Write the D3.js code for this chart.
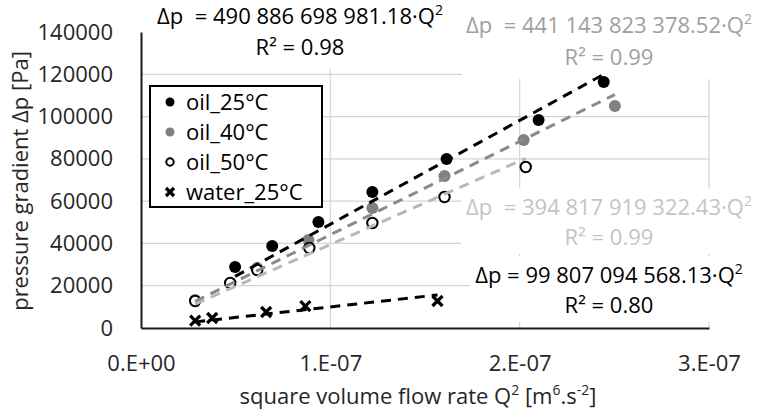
<!DOCTYPE html>
<html><head><meta charset="utf-8">
<script src="https://cdn.jsdelivr.net/npm/d3@7"></script>
<style>
body{margin:0;background:#fff}
svg text{font-family:"Open Sans",sans-serif;white-space:pre}
</style>
</head><body>
<svg id="chart" width="763" height="413"></svg>
<script>
// ---------- data ----------
const seriesNames = ["oil_25°C", "oil_40°C", "oil_50°C", "water_25°C"];
const oil25Q2 = [4.97e-8, 6.93e-8, 9.37e-8, 12.22e-8, 16.14e-8, 21.0e-8, 24.44e-8];
const oil25Dp = [28850, 38780, 50130, 64320, 79930, 98380, 116350];
const oil40Q2 = [2.86e-8, 6.14e-8, 8.84e-8, 12.22e-8, 16.03e-8, 20.21e-8, 25.03e-8];
const oil40Dp = [13240, 28380, 41620, 56760, 71890, 88920, 105000];
const oil50Q2 = [2.86e-8, 4.71e-8, 6.14e-8, 8.89e-8, 12.22e-8, 16.03e-8, 20.32e-8];
const oil50Dp = [12770, 21280, 27430, 37840, 49660, 61960, 76150];
const water25Q2 = [2.86e-8, 3.76e-8, 6.61e-8, 8.68e-8, 15.66e-8];
const water25Dp = [3450, 4730, 7570, 10400, 12770];
const trendSlopes = [490886698981.18, 441143823378.52, 394817919322.43, 99807094568.13];
const trendEqText = ["Δp  = 490 886 698 981.18·Q", "Δp  = 441 143 823 378.52·Q", "Δp  = 394 817 919 322.43·Q", "Δp = 99 807 094 568.13·Q"];
const trendR2 = ["0.98", "0.99", "0.99", "0.80"];
const xTickValues = [0, 1e-7, 2e-7, 3e-7];
const xTickLabels = ["0.E+00", "1.E-07", "2.E-07", "3.E-07"];
const yTickValues = [0, 20000, 40000, 60000, 80000, 100000, 120000, 140000];
const yTickLabels = ["0", "20000", "40000", "60000", "80000", "100000", "120000", "140000"];

// ---------- layout ----------
const svg = d3.select("#chart");
const L = 141, R = 709, T = 32, B = 328;
const FS = 22, MID = 8; // font size, baseline offset to visual centre
const x = d3.scaleLinear().domain([0, 3e-7]).range([L, R]);
const y = d3.scaleLinear().domain([0, 140000]).range([B, T]);

const styles = [
  {fill:"#000", line:"#000", label:"#000", marker:"dot"},
  {fill:"#808080", line:"#8a8a8a", label:"#a0a0a0", marker:"dot"},
  {fill:"#fff", line:"#b8b8b8", label:"#c4c4c4", marker:"circle"},
  {fill:"none", line:"#000", label:"#000", marker:"x"}
];
const seriesData = [
  d3.zip(oil25Q2, oil25Dp), d3.zip(oil40Q2, oil40Dp),
  d3.zip(oil50Q2, oil50Dp), d3.zip(water25Q2, water25Dp)
];

// gridlines
svg.append("g").selectAll("line").data(yTickValues.filter(v => v > 0 && v < 140000)).join("line")
  .attr("x1", L).attr("x2", R).attr("y1", d => y(d)).attr("y2", d => y(d))
  .attr("stroke", "#d4d4d4").attr("stroke-width", 1.2);
svg.append("g").selectAll("line").data(xTickValues.filter(v => v > 0)).join("line")
  .attr("x1", d => x(d)).attr("x2", d => x(d)).attr("y1", B).attr("y2", T)
  .attr("stroke", "#d4d4d4").attr("stroke-width", 1.2);

// trendline labels (with white boxes)
const labelPos = [[300, 16, 47], [609, 25, 57], [609, 207, 237], [609, 275, 305]];
const labelPad = [[4, 8], [4, 8], [5, 3], [5, 3]];
const labelsG = svg.append("g");
trendEqText.forEach((t, i) => {
  const g = labelsG.append("g");
  const rect = g.append("rect").attr("fill", "#fff");
  const t1 = g.append("text").attr("x", labelPos[i][0]).attr("y", labelPos[i][1] + MID)
    .attr("text-anchor", "middle").attr("font-size", FS).attr("fill", styles[i].label);
  t1.append("tspan").text(t);
  t1.append("tspan").attr("baseline-shift", "super").attr("font-size", 14).text("2");
  g.append("text").attr("x", labelPos[i][0]).attr("y", labelPos[i][2] + MID)
    .attr("text-anchor", "middle").attr("font-size", FS).attr("fill", styles[i].label)
    .text("R² = " + trendR2[i]);
  const bb = g.node().getBBox();
  rect.attr("x", bb.x - labelPad[i][0]).attr("y", bb.y - 2)
    .attr("width", bb.width + 2 * labelPad[i][0]).attr("height", bb.height + 2 + labelPad[i][1]);
});

// axes
const yAxis = svg.append("g").attr("transform", `translate(${L},0)`)
  .call(d3.axisLeft(y).tickValues(yTickValues).tickFormat((d, i) => yTickLabels[i])
    .tickSize(0).tickSizeOuter(0).tickPadding(28));
yAxis.select(".domain").attr("stroke", "#1a1a1a").attr("stroke-width", 2);
yAxis.selectAll("text").attr("font-size", FS).attr("fill", "#262626").attr("font-family", "Open Sans");

const xAxis = svg.append("g").attr("transform", `translate(0,${B})`)
  .call(d3.axisBottom(x).tickValues(xTickValues).tickFormat((d, i) => xTickLabels[i])
    .tickSize(0).tickSizeOuter(0).tickPadding(27));
xAxis.select(".domain").attr("stroke", "#1a1a1a").attr("stroke-width", 2);
xAxis.selectAll("text").attr("font-size", FS).attr("fill", "#262626").attr("font-family", "Open Sans");

// axis titles
const xt = svg.append("text").attr("x", 418).attr("y", 404).attr("text-anchor", "middle")
  .attr("font-size", FS).attr("fill", "#262626");
xt.append("tspan").text("square volume flow rate Q");
xt.append("tspan").attr("baseline-shift", "super").attr("font-size", 14).text("2");
xt.append("tspan").text(" [m");
xt.append("tspan").attr("baseline-shift", "super").attr("font-size", 14).text("6");
xt.append("tspan").text(".s");
xt.append("tspan").attr("baseline-shift", "super").attr("font-size", 14).text("-2");
xt.append("tspan").text("]");

svg.append("text").attr("transform", "translate(28,181) rotate(-90)")
  .attr("text-anchor", "middle")
  .attr("font-size", FS).attr("fill", "#262626").text("pressure gradient Δp [Pa]");

// markers
function drawMarker(sel, type, st, r) {
  if (type === "x") {
    sel.append("path").attr("d", `M${-r},${-r}L${r},${r}M${-r},${r}L${r},${-r}`)
      .attr("stroke", "#000").attr("stroke-width", 3.2).attr("fill", "none");
  } else if (type === "circle") {
    sel.append("circle").attr("r", r - 0.8).attr("fill", "#fff").attr("stroke", "#000").attr("stroke-width", 2);
  } else {
    sel.append("circle").attr("r", r).attr("fill", st.fill);
  }
}
const markG = svg.append("g");
seriesData.forEach((data, i) => {
  data.forEach(d => {
    const g = markG.append("g").attr("transform", `translate(${x(d[0])},${y(d[1])})`);
    drawMarker(g, styles[i].marker, styles[i], i === 3 ? 5 : 6);
  });
});

// trendlines (through origin, over data range)
const lineGen = d3.line().x(d => x(d[0])).y(d => y(d[1]));
seriesData.forEach((data, i) => {
  const ext = d3.extent(data, d => d[0]);
  const pts = ext.map(q => [q, trendSlopes[i] * q]);
  svg.append("path").attr("d", lineGen(pts)).attr("fill", "none")
    .attr("stroke", styles[i].line).attr("stroke-width", 3)
    .attr("stroke-dasharray", "10,7");
});

// legend
const lg = svg.append("g");
lg.append("rect").attr("x", 150).attr("y", 86).attr("width", 172).attr("height", 121)
  .attr("fill", "#fff").attr("stroke", "#000").attr("stroke-width", 2);
seriesNames.forEach((n, i) => {
  const yy = 102 + i * 30;
  const g = lg.append("g").attr("transform", `translate(170,${yy})`);
  drawMarker(g, styles[i].marker, styles[i], i === 3 ? 4 : 4.5);
  lg.append("text").attr("x", 186).attr("y", yy + MID)
    .attr("font-size", FS).attr("fill", "#000").text(n);
});
</script>
</body></html>
